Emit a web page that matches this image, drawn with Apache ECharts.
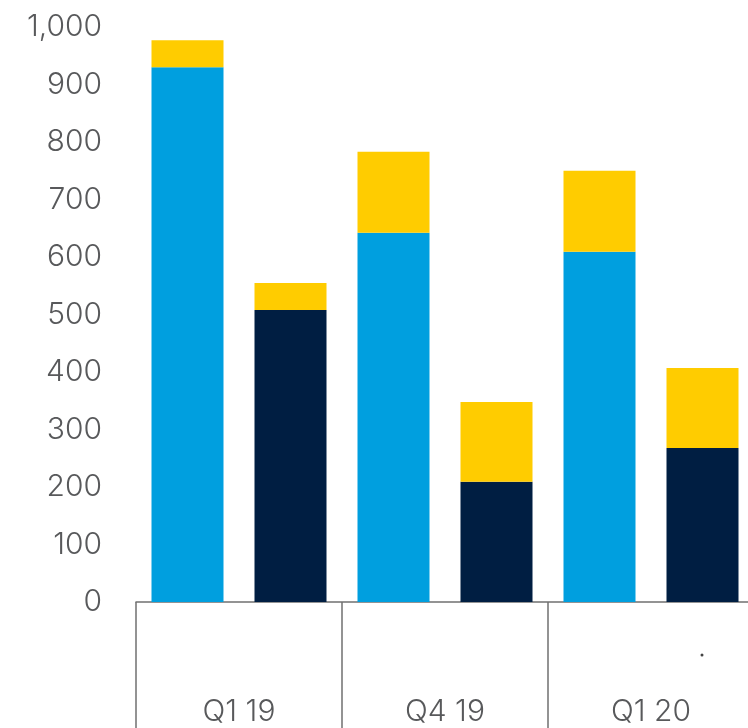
<!DOCTYPE html>
<html>
<head>
<meta charset="utf-8">
<script src="https://cdn.jsdelivr.net/npm/echarts@6/dist/echarts.min.js"></script>
<style>html,body{margin:0;padding:0;background:#fff;overflow:hidden;width:748px;height:728px}#c{width:754px;height:728px}</style>
</head>
<body>
<div id="c"></div>
<script>
var barSlots = ['Q1 19 a','Q1 19 b','Q4 19 a','Q4 19 b','Q1 20 a','Q1 20 b'];
var groupLabels = ['Q1 19','Q4 19','Q1 20'];
var lightBlueValues = [930, 0, 642, 0, 609, 0];
var navyValues = [0, 508, 0, 209, 0, 268];
var yellowValues = [47, 47, 141, 139, 141, 139];
var yTicks = {min: 0, max: 1000, interval: 100};

var chart = echarts.init(document.getElementById('c'));
var font = 'Inter, Lato, "Noto Sans", sans-serif';
chart.setOption({
  animation: false,
  grid: {left: 136, right: 0, top: 27, bottom: 126, containLabel: false},
  xAxis: [
    {type: 'category', data: barSlots, show: false},
    {type: 'category', data: groupLabels, position: 'bottom',
     axisLine: {show: true, lineStyle: {color: '#707070', width: 1.5}},
     axisTick: {show: true, length: 130, lineStyle: {color: '#707070', width: 1.5}},
     axisLabel: {margin: 95, color: '#58595b', fontSize: 30, fontWeight: 300, fontFamily: font},
     splitLine: {show: false}}
  ],
  yAxis: {type: 'value', min: yTicks.min, max: yTicks.max, interval: yTicks.interval,
    axisLine: {show: false}, axisTick: {show: false}, splitLine: {show: false},
    axisLabel: {margin: 34, color: '#58595b', fontSize: 30, fontWeight: 300, fontFamily: font,
      formatter: function (v) { return v.toLocaleString('en-US'); }}},
  series: [
    {type: 'bar', stack: 's', data: lightBlueValues, barWidth: 72, itemStyle: {color: '#009fdf'}},
    {type: 'bar', stack: 's', data: navyValues, barWidth: 72, itemStyle: {color: '#001e42'}},
    {type: 'bar', stack: 's', data: yellowValues, barWidth: 72, itemStyle: {color: '#ffcc00'}}
  ],
  graphic: [{type: 'circle', shape: {cx: 702, cy: 655, r: 1.5}, style: {fill: '#444'}}]
});
</script>
</body>
</html>
